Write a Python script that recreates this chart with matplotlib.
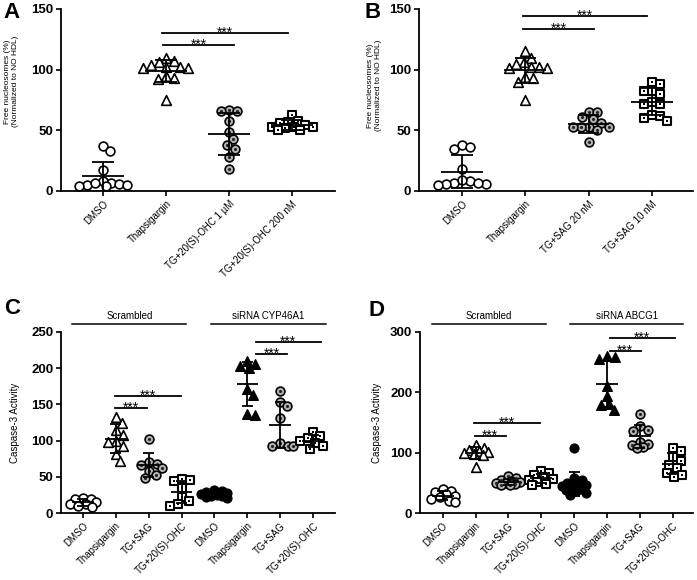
import numpy as np
import matplotlib
matplotlib.use("Agg")
import matplotlib.pyplot as plt
from matplotlib.transforms import blended_transform_factory

plt.rcParams['font.family'] = ['Liberation Sans', 'DejaVu Sans']

# Panel A
a_labels = ['DMSO', 'Thapsigargin', 'TG+20(S)-OHC 1 µM', 'TG+20(S)-OHC 200 nM']
a_dmso = [37, 33, 17, 7, 6, 8, 5, 4, 7, 5, 4]
a_tg = [110, 107, 106, 104, 102, 102, 101, 101, 95, 93, 92, 75]
a_ohc_1um = [67, 66, 66, 58, 49, 43, 38, 35, 28, 18]
a_ohc_200nm = [63, 58, 57, 56, 54, 53, 53, 53, 52, 50, 50]

# Panel B
b_labels = ['DMSO', 'Thapsigargin', 'TG+SAG 20 nM', 'TG+SAG 10 nM']
b_dmso = [38, 36, 35, 18, 8, 7, 6, 6, 9, 7, 5]
b_tg = [115, 110, 106, 105, 102, 102, 101, 101, 94, 93, 90, 75]
b_sag_20nm = [65, 65, 61, 59, 56, 53, 53, 53, 53, 50, 40]
b_sag_10nm = [90, 88, 82, 82, 80, 72, 72, 73, 63, 62, 60, 58]

# Panels C and D share the x labels
cd_labels = ['DMSO', 'Thapsigargin', 'TG+SAG', 'TG+20(S)-OHC'] * 2

# Panel C (scrambled / siRNA CYP46A1)
c_scr_dmso = [21, 20, 19, 15, 13, 12, 9, 8]
c_scr_tg = [133, 125, 115, 108, 99, 98, 92, 82, 72]
c_scr_sag = [102, 70, 68, 66, 62, 58, 52, 48]
c_scr_ohc = [47, 45, 44, 34, 22, 16, 12, 10]
c_si_dmso = [32, 30, 29, 27, 26, 25, 24, 23, 22, 21]
c_si_tg = [210, 206, 203, 200, 171, 163, 137, 135]
c_si_sag = [168, 154, 148, 131, 97, 93, 92, 92]
c_si_ohc = [112, 106, 103, 100, 97, 93, 88]

# Panel D (scrambled / siRNA ABCG1)
d_scr_dmso = [40, 37, 35, 32, 29, 26, 23, 20, 18]
d_scr_tg = [112, 108, 105, 103, 101, 100, 98, 96, 77]
d_scr_sag = [62, 58, 55, 53, 52, 50, 49, 48, 47, 46]
d_scr_ohc = [70, 66, 63, 60, 56, 55, 52, 48, 46]
d_si_dmso = [108, 58, 55, 50, 48, 46, 44, 42, 40, 38, 36, 33, 30]
d_si_tg = [260, 259, 256, 211, 194, 181, 179, 170]
d_si_sag = [164, 144, 138, 136, 118, 114, 112, 110, 108]
d_si_ohc = [108, 103, 92, 86, 80, 74, 67, 63, 60]


MARKERS = {
    'open_circle': dict(marker='o', s=40, facecolor='white', edgecolor='black', linewidth=1.2),
    'open_tri': dict(marker='^', s=48, facecolor='white', edgecolor='black', linewidth=1.2),
    'ring_circle': dict(marker='o', s=40, facecolor='#b4b4b4', edgecolor='black', linewidth=1.2),
    'dot_square': dict(marker='s', s=34, facecolor='white', edgecolor='black', linewidth=1.5),
    'black_circle': dict(marker='o', s=40, facecolor='black', edgecolor='black', linewidth=1.0),
    'black_tri': dict(marker='^', s=48, facecolor='black', edgecolor='black', linewidth=1.0),
}
INNER = {
    'ring_circle': dict(marker='o', s=5, color='#222222', linewidth=0),
    'dot_square': dict(marker='s', s=4, color='black', linewidth=0),
}


def swarm_offsets(values, xpx, ypx, diam=8.0, maxw=20.0):
    # simple beeswarm, done in pixel units
    vals = np.asarray(values, float)
    order = np.argsort(-vals, kind='stable')
    cands = [0.0]
    for k in np.arange(1, maxw + 0.5, 1.0):
        cands += [k, -k]
    placed = []
    offs = np.zeros(len(vals))
    for i in order:
        y = vals[i] * ypx
        best, best_gap = 0.0, -1.0
        for c in cands:
            gap = min((np.hypot(c - px, y - py) for px, py in placed), default=np.inf)
            if gap >= diam:
                best = c
                break
            if gap > best_gap:
                best, best_gap = c, gap
        placed.append((best, y))
        offs[i] = best / xpx
    return offs


def setup_axes(ax, labels, ymax, yticks, xlim):
    ax.set_xlim(*xlim)
    ax.set_ylim(0, ymax)
    ax.set_yticks(yticks)
    ax.set_xticks(range(len(labels)))
    ax.set_xticklabels(labels, rotation=45, ha='right', rotation_mode='anchor', fontsize=7)
    for lab in ax.get_yticklabels():
        lab.set_fontweight('bold')
        lab.set_fontsize(9.5)
    ax.spines['top'].set_visible(False)
    ax.spines['right'].set_visible(False)
    ax.spines['left'].set_linewidth(1.3)
    ax.spines['bottom'].set_linewidth(1.3)
    ax.tick_params(direction='out', length=3.6, width=1.2, pad=2)


def draw_groups(ax, groups, kinds, maxw_units=0.38):
    p0 = ax.transData.transform((0, 0))
    p1 = ax.transData.transform((1, 1))
    xpx, ypx = p1[0] - p0[0], p1[1] - p0[1]
    for i, (vals, kind) in enumerate(zip(groups, kinds)):
        vals = np.asarray(vals, float)
        xs = i + swarm_offsets(vals, xpx, ypx, diam=8.0, maxw=maxw_units * xpx)
        ax.scatter(xs, vals, zorder=3, clip_on=False, **MARKERS[kind])
        if kind in INNER:
            ax.scatter(xs, vals, zorder=3.5, clip_on=False, **INNER[kind])
        m = vals.mean()
        sd = vals.std(ddof=1)
        kw = dict(color='black', lw=1.3, zorder=4, solid_capstyle='butt')
        ax.plot([i - 0.33, i + 0.33], [m, m], **kw)
        ax.plot([i, i], [m - sd, m + sd], **kw)
        ax.plot([i - 0.17, i + 0.17], [m + sd, m + sd], **kw)
        ax.plot([i - 0.17, i + 0.17], [m - sd, m - sd], **kw)


def sig_bars(ax, bars):
    for x0, x1, y in bars:
        ax.plot([x0, x1], [y, y], color='black', lw=1.3, clip_on=False, zorder=4)
        ax.annotate('***', xy=((x0 + x1) / 2, y), xytext=(0, -2.6), textcoords='offset points',
                    ha='center', va='baseline', fontsize=10)


def group_headers(ax, headers):
    trans = blended_transform_factory(ax.transData, ax.transAxes)
    for x0, x1, text in headers:
        ax.plot([x0, x1], [1.043, 1.043], color='black', lw=1.1, transform=trans, clip_on=False)
        ax.text((x0 + x1) / 2, 1.058, text, transform=trans, ha='center', va='bottom', fontsize=7)


fig = plt.figure(figsize=(6.97, 5.80), dpi=100)

ax_a = fig.add_axes([0.0875, 0.6707, 0.3931, 0.3138])
ax_b = fig.add_axes([0.6011, 0.6707, 0.3931, 0.3138])
ax_c = fig.add_axes([0.0875, 0.1155, 0.3931, 0.3121])
ax_d = fig.add_axes([0.6026, 0.1155, 0.3917, 0.3121])

top_kinds = ['open_circle', 'open_tri', 'ring_circle', 'dot_square']
bottom_kinds = top_kinds + ['black_circle', 'black_tri', 'ring_circle', 'dot_square']

# A
setup_axes(ax_a, a_labels, 150, [0, 50, 100, 150], (-0.667, 3.68))
draw_groups(ax_a, [a_dmso, a_tg, a_ohc_1um, a_ohc_200nm], top_kinds)
sig_bars(ax_a, [(0.95, 2.08, 120), (0.94, 2.94, 130)])
ax_a.set_ylabel('Free nucleosomes (%)\n(Normalized to NO HDL)', fontsize=6)
ax_a.yaxis.set_label_coords(-0.155, 0.6)

# B
setup_axes(ax_b, b_labels, 150, [0, 50, 100, 150], (-0.68, 3.65))
draw_groups(ax_b, [b_dmso, b_tg, b_sag_20nm, b_sag_10nm], top_kinds)
sig_bars(ax_b, [(0.96, 2.09, 133.5), (0.96, 2.92, 144)])
ax_b.set_ylabel('Free nucleosomes (%)\n(Normalized to NO HDL)', fontsize=6)
ax_b.yaxis.set_label_coords(-0.135, 0.58)

# C
setup_axes(ax_c, cd_labels, 250, [0, 50, 100, 150, 200, 250], (-0.66, 7.66))
draw_groups(ax_c, [c_scr_dmso, c_scr_tg, c_scr_sag, c_scr_ohc,
                   c_si_dmso, c_si_tg, c_si_sag, c_si_ohc], bottom_kinds)
sig_bars(ax_c, [(0.99, 1.94, 145), (0.97, 2.98, 162), (5.26, 6.21, 219.5), (5.26, 7.23, 236)])
group_headers(ax_c, [(-0.32, 3.15, 'Scrambled'), (3.91, 7.38, 'siRNA CYP46A1')])
ax_c.set_ylabel('Caspase-3 Activity', fontsize=7)
ax_c.yaxis.set_label_coords(-0.15, 0.5)

# D
setup_axes(ax_d, cd_labels, 300, [0, 100, 200, 300], (-0.69, 7.62))
draw_groups(ax_d, [d_scr_dmso, d_scr_tg, d_scr_sag, d_scr_ohc,
                   d_si_dmso, d_si_tg, d_si_sag, d_si_ohc], bottom_kinds)
sig_bars(ax_d, [(0.98, 1.92, 128), (0.96, 2.96, 149), (5.08, 6.03, 269), (5.08, 7.07, 289.6)])
group_headers(ax_d, [(-0.32, 3.14, 'Scrambled'), (3.88, 7.33, 'siRNA ABCG1')])
ax_d.set_ylabel('Caspase-3 Activity', fontsize=7)
ax_d.yaxis.set_label_coords(-0.139, 0.5)

# panel letters
for letter, x, y in [('A', 12, 12), ('B', 373, 12), ('C', 12, 308), ('D', 377, 311)]:
    fig.text(x / 697, 1 - y / 580, letter, fontsize=16, fontweight='bold', ha='center', va='center')

fig.savefig('out.png', dpi=100)
